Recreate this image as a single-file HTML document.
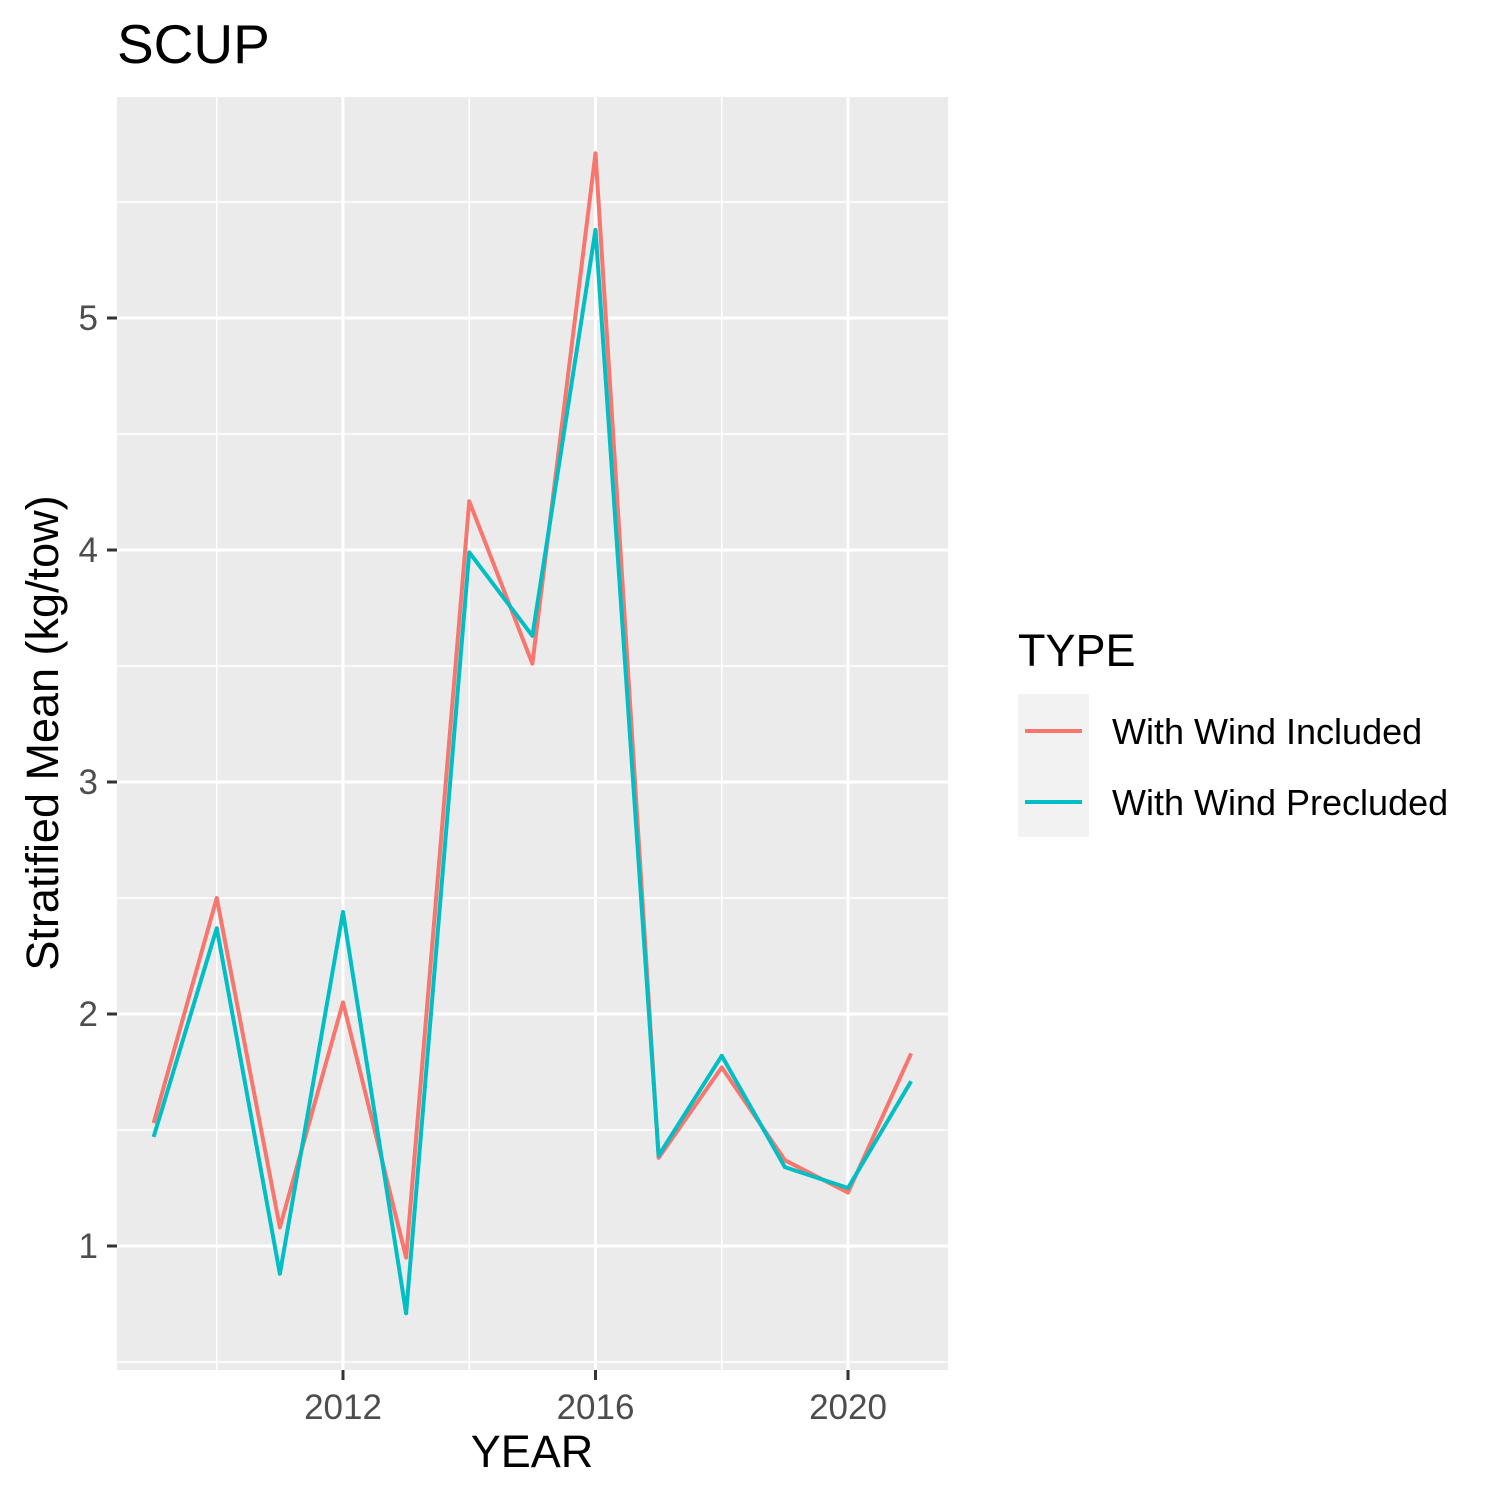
<!DOCTYPE html>
<html><head><meta charset="utf-8"><style>
body{margin:0;background:#fff}
svg text{font-family:"Liberation Sans",Arial,sans-serif}
</style></head><body>
<svg id="chart" width="1500" height="1500" xmlns="http://www.w3.org/2000/svg">
<rect width="1500" height="1500" fill="#fff"/>
<text x="117" y="63" font-size="55">SCUP</text>
<rect x="117" y="97" width="831" height="1273" fill="#ebebeb"/>
<g id="grid"></g>
<g id="lines"></g>
<g id="axes"></g>
<text x="532" y="1467" font-size="45" text-anchor="middle">YEAR</text>
<text transform="translate(58,733) rotate(-90)" font-size="45" text-anchor="middle">Stratified Mean (kg/tow)</text>
<g>
<text x="1018" y="666" font-size="45">TYPE</text>
<rect x="1018" y="694" width="71" height="143" fill="#f2f2f2"/>
<line x1="1025" y1="731" x2="1082" y2="731" stroke="#F8766D" stroke-width="4"/>
<line x1="1025" y1="802" x2="1082" y2="802" stroke="#00BFC4" stroke-width="4"/>
<text x="1112" y="744" font-size="36">With Wind Included</text>
<text x="1112" y="815" font-size="36">With Wind Precluded</text>
</g>
</svg>
<script>
const years=[2009,2010,2011,2012,2013,2014,2015,2016,2017,2018,2019,2020,2021];
const included=[1.53,2.50,1.08,2.05,0.95,4.21,3.51,5.71,1.38,1.77,1.37,1.23,1.83];
const precluded=[1.47,2.37,0.88,2.44,0.71,3.99,3.63,5.38,1.39,1.82,1.34,1.25,1.71];
const xTicks=[2012,2016,2020];
const xMinor=[2010,2014,2018];
const yTicks=[1,2,3,4,5];
const yMinor=[0.5,1.5,2.5,3.5,4.5,5.5];
const X=v=>343+(v-2012)*63.125;
const Y=v=>1246-(v-1)*232;
const NS="http://www.w3.org/2000/svg";
function mk(p,tag,a){const e=document.createElementNS(NS,tag);for(const k in a)e.setAttribute(k,a[k]);p.appendChild(e);return e;}
const g=document.getElementById('grid'),ax=document.getElementById('axes'),ln=document.getElementById('lines');
yMinor.forEach(v=>{const e=mk(g,'line',{x1:117,x2:948,y1:Y(v),y2:Y(v),stroke:'#fff','stroke-width':1.5});

});
xMinor.forEach(v=>{const e=mk(g,'line',{x1:X(v),x2:X(v),y1:97,y2:1370,stroke:'#fff','stroke-width':1.5});

});
yTicks.forEach(v=>{const e=mk(g,'line',{x1:117,x2:948,y1:Y(v),y2:Y(v),stroke:'#fff','stroke-width':3});


const t=mk(ax,'line',{x1:107,x2:117,y1:Y(v),y2:Y(v),stroke:'#333','stroke-width':3});


const l=mk(ax,'text',{x:98,y:Y(v)+12,'font-size':35,'text-anchor':'end',fill:'#4d4d4d'});l.textContent=v;

});
xTicks.forEach(v=>{const e=mk(g,'line',{x1:X(v),x2:X(v),y1:97,y2:1370,stroke:'#fff','stroke-width':3});


const t=mk(ax,'line',{x1:X(v),x2:X(v),y1:1370,y2:1380,stroke:'#333','stroke-width':3});


const l=mk(ax,'text',{x:X(v),y:1419,'font-size':35,'text-anchor':'middle',fill:'#4d4d4d'});l.textContent=v;

});
[[included,'#F8766D','line-with-wind-included'],[precluded,'#00BFC4','line-with-wind-precluded']].forEach(([d,c,n])=>{
const p=mk(ln,'polyline',{points:years.map((y,i)=>X(y)+','+Y(d[i])).join(' '),fill:'none',stroke:c,'stroke-width':4,'stroke-linejoin':'round'});

});
</script>
</body></html>
